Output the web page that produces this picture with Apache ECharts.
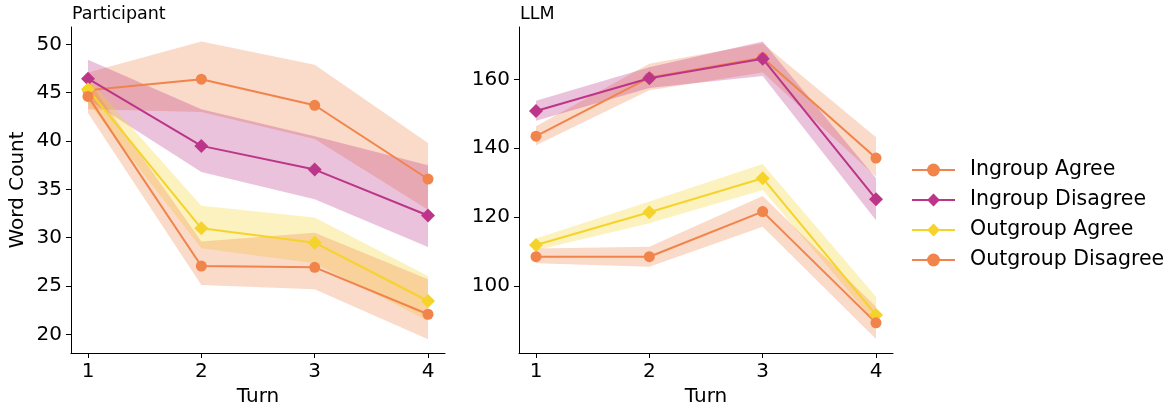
<!DOCTYPE html>
<html>
<head>
<meta charset="utf-8">
<script src="https://cdn.jsdelivr.net/npm/echarts@6/dist/echarts.min.js"></script>
<style>
html,body{margin:0;padding:0;background:#fff;}
#c{width:1172px;height:412px;}
</style>
</head>
<body>
<div id="c"></div>
<script>
const turns = [1, 2, 3, 4];
const seriesNames = ['Ingroup Agree', 'Ingroup Disagree', 'Outgroup Agree', 'Outgroup Disagree'];
const xTicks = [1, 2, 3, 4];
const leftYTicks = [20, 25, 30, 35, 40, 45, 50];
const rightYTicks = [100, 120, 140, 160];

// Participant panel
const pIngroupAgree = [45.25, 46.4, 43.7, 36.07];
const pIngroupAgreeLo = [43.3, 43.0, 40.2, 32.9];
const pIngroupAgreeHi = [47.1, 50.3, 47.9, 39.8];
const pIngroupDisagree = [46.45, 39.5, 37.05, 32.3];
const pIngroupDisagreeLo = [44.3, 36.8, 33.97, 29.05];
const pIngroupDisagreeHi = [48.4, 43.3, 40.5, 37.5];
const pOutgroupAgree = [45.35, 30.97, 29.48, 23.45];
const pOutgroupAgreeLo = [44.0, 28.9, 27.35, 21.4];
const pOutgroupAgreeHi = [46.5, 33.3, 32.1, 26.04];
const pOutgroupDisagree = [44.62, 27.07, 26.93, 22.08];
const pOutgroupDisagreeLo = [42.9, 25.1, 24.66, 19.5];
const pOutgroupDisagreeHi = [46.3, 29.6, 30.5, 25.7];

// LLM panel
const lIngroupAgree = [143.5, 160.5, 166.3, 137.15];
const lIngroupAgreeLo = [140.9, 156.8, 162.0, 131.7];
const lIngroupAgreeHi = [146.4, 164.5, 170.5, 143.2];
const lIngroupDisagree = [150.8, 160.3, 166.0, 125.2];
const lIngroupDisagreeLo = [148.0, 157.5, 161.0, 119.1];
const lIngroupDisagreeHi = [153.8, 163.5, 171.0, 131.3];
const lOutgroupAgree = [111.9, 121.4, 131.3, 91.6];
const lOutgroupAgreeLo = [110.4, 118.2, 127.9, 89.2];
const lOutgroupAgreeHi = [113.8, 124.5, 135.4, 96.9];
const lOutgroupDisagree = [108.5, 108.5, 121.6, 89.3];
const lOutgroupDisagreeLo = [106.6, 105.6, 117.2, 84.6];
const lOutgroupDisagreeHi = [110.9, 111.4, 126.1, 94.0];

const colors = ['#F0844A', '#BC3588', '#F6D32B', '#F0844A'];
const symbols = ['circle', 'diamond', 'diamond', 'circle'];
const symbolSizes = [11, 14, 14, 11];

const FONT = 'DejaVu Sans';

const panels = [
  {means: [pIngroupAgree, pIngroupDisagree, pOutgroupAgree, pOutgroupDisagree],
   los: [pIngroupAgreeLo, pIngroupDisagreeLo, pOutgroupAgreeLo, pOutgroupDisagreeLo],
   his: [pIngroupAgreeHi, pIngroupDisagreeHi, pOutgroupAgreeHi, pOutgroupDisagreeHi]},
  {means: [lIngroupAgree, lIngroupDisagree, lOutgroupAgree, lOutgroupDisagree],
   los: [lIngroupAgreeLo, lIngroupDisagreeLo, lOutgroupAgreeLo, lOutgroupDisagreeLo],
   his: [lIngroupAgreeHi, lIngroupDisagreeHi, lOutgroupAgreeHi, lOutgroupDisagreeHi]}
];

function bandSeries(axisIdx, lo, hi, color) {
  return {
    type: 'custom',
    xAxisIndex: axisIdx,
    yAxisIndex: axisIdx,
    silent: true,
    z: 1,
    encode: {x: 0, y: [1, 2]},
    data: turns.map((t, i) => [t, lo[i], hi[i]]),
    renderItem: function (params, api) {
      if (params.dataIndex !== 0) return null;
      const pts = [];
      for (let i = 0; i < turns.length; i++) pts.push(api.coord([turns[i], hi[i]]));
      for (let i = turns.length - 1; i >= 0; i--) pts.push(api.coord([turns[i], lo[i]]));
      return {type: 'polygon', shape: {points: pts}, style: {fill: color, opacity: 0.3}};
    }
  };
}

const series = [];
panels.forEach((p, pi) => {
  for (let k = 0; k < 4; k++) {
    series.push(bandSeries(pi, p.los[k], p.his[k], colors[k]));
  }
  for (let k = 0; k < 4; k++) {
    series.push({
      type: 'line',
      name: seriesNames[k],
      xAxisIndex: pi,
      yAxisIndex: pi,
      z: 3,
      data: turns.map((t, i) => [t, p.means[k][i]]),
      symbol: symbols[k],
      symbolSize: symbolSizes[k],
      showSymbol: true,
      lineStyle: {color: colors[k], width: 2},
      itemStyle: {color: colors[k]},
      emphasis: {disabled: true},
      animation: false
    });
  }
});

function xAxis(gi) {
  return {
    type: 'value', gridIndex: gi, min: 0.85, max: 4.15,
    name: 'Turn', nameLocation: 'middle', nameGap: 32,
    nameTextStyle: {fontFamily: FONT, fontSize: 20, color: '#000'},
    axisLine: {show: true, lineStyle: {color: '#000', width: 1}},
    axisTick: {show: true, length: 5, lineStyle: {color: '#000', width: 1}, customValues: xTicks},
    axisLabel: {fontFamily: FONT, fontSize: 20, color: '#000', margin: 9, customValues: xTicks},
    splitLine: {show: false}
  };
}
function yAxis(gi, min, max, ticks, name) {
  return {
    type: 'value', gridIndex: gi, min: min, max: max,
    name: name, nameLocation: 'middle', nameGap: 43,
    nameTextStyle: {fontFamily: FONT, fontSize: 20, color: '#000'},
    axisLine: {show: true, lineStyle: {color: '#000', width: 1}},
    axisTick: {show: true, length: 5, lineStyle: {color: '#000', width: 1}, customValues: ticks},
    axisLabel: {fontFamily: FONT, fontSize: 20, color: '#000', margin: 9, customValues: ticks},
    splitLine: {show: false}
  };
}

const chart = echarts.init(document.getElementById('c'), null, {renderer: 'canvas'});
chart.setOption({
  animation: false,
  backgroundColor: '#fff',
  title: [
    {text: 'Participant', left: 67, top: 0, textStyle: {fontFamily: FONT, fontSize: 17.5, fontWeight: 'normal', color: '#000'}},
    {text: 'LLM', left: 515, top: 0, textStyle: {fontFamily: FONT, fontSize: 17.5, fontWeight: 'normal', color: '#000'}}
  ],
  grid: [
    {left: 71, top: 27, width: 374, height: 326, containLabel: false},
    {left: 519, top: 27, width: 374, height: 326, containLabel: false}
  ],
  xAxis: [xAxis(0), xAxis(1)],
  yAxis: [yAxis(0, 18.07, 51.8, leftYTicks, 'Word Count'), yAxis(1, 80.55, 175.2, rightYTicks, '')],
  legend: {
    data: seriesNames,
    orient: 'vertical',
    left: 906, top: 154,
    itemWidth: 43, itemHeight: 16, itemGap: 8,
    selectedMode: false,
    textStyle: {fontFamily: FONT, fontSize: 20.5, color: '#000', lineHeight: 22, padding: [0, 0, 0, 10]}
  },
  series: series
});
</script>
</body>
</html>
